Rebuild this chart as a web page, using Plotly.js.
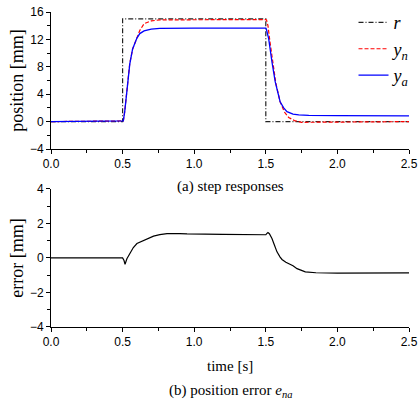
<!DOCTYPE html>
<html>
<head>
<meta charset="utf-8">
<script src="https://cdn.plot.ly/plotly-3.0.1.min.js"></script>
<style>html,body{margin:0;padding:0;background:#fff;}#chart{width:418px;height:407px;}</style>
</head>
<body>
<div id="chart"></div>
<script>
// reference r
const tR = [0, 0.5, 0.5, 1.5, 1.5, 2.5];
const rVals = [0, 0, 15, 15, 0, 0];
// nominal response y_n
const tYn = [0, 0.5, 0.505, 0.515, 0.53, 0.55, 0.57, 0.6, 0.62, 0.65, 0.7, 0.76, 1.0, 1.5, 1.505, 1.515, 1.53, 1.55, 1.57, 1.6, 1.63, 1.66, 1.7, 1.75, 1.8, 1.9, 2.0, 2.5];
const ynVals = [0, 0, 0.1, 1.5, 4.9, 8.5, 10.6, 12.4, 13.3, 14.3, 14.7, 14.85, 14.9, 14.9, 14.85, 14.0, 11.5, 8.3, 5.6, 2.9, 1.4, 0.6, 0.15, -0.1, -0.1, -0.05, 0, 0];
// actual response y_a
const tYa = [0, 0.5, 0.505, 0.515, 0.53, 0.55, 0.57, 0.6, 0.62, 0.65, 0.7, 0.76, 1.0, 1.5, 1.505, 1.52, 1.543, 1.566, 1.6, 1.625, 1.648, 1.69, 1.73, 1.8, 2.0, 2.5];
const yaVals = [0, 0, 0.1, 1.5, 4.9, 8.4, 10.6, 12.2, 12.85, 13.25, 13.5, 13.6, 13.65, 13.65, 13.4, 12.1, 8.7, 5.8, 2.9, 2.0, 1.45, 1.1, 0.97, 0.9, 0.87, 0.85];
// position error e_na
const tE = [0, 0.5, 0.51, 0.517, 0.53, 0.552, 0.575, 0.6, 0.646, 0.68, 0.716, 0.76, 0.81, 0.9, 0.95, 1.2, 1.5, 1.508, 1.515, 1.525, 1.543, 1.56, 1.578, 1.6, 1.613, 1.64, 1.66, 1.69, 1.718, 1.75, 1.776, 1.85, 2.0, 2.5];
const eVals = [0, 0, -0.15, -0.37, -0.05, 0.25, 0.6, 0.83, 0.99, 1.1, 1.26, 1.35, 1.41, 1.41, 1.39, 1.36, 1.34, 1.42, 1.47, 1.4, 1.12, 0.75, 0.35, 0.05, -0.09, -0.25, -0.33, -0.45, -0.62, -0.75, -0.81, -0.86, -0.88, -0.87];

const xTicks = [0, 0.5, 1.0, 1.5, 2.0, 2.5];
const y1Ticks = [-4, 0, 4, 8, 12, 16];
const y2Ticks = [-4, -2, 0, 2, 4];

const tickFont = {family: 'Liberation Sans, Arial, sans-serif', size: 12, color: '#000'};
const serif = 'Liberation Serif, Times New Roman, serif';

const traces = [
  {x: tR, y: rVals, xaxis: 'x', yaxis: 'y', mode: 'lines', name: 'r',
   line: {color: '#222', width: 1.2, dash: '5px,2px,1px,2px'}},
  {x: tYn, y: ynVals, xaxis: 'x', yaxis: 'y', mode: 'lines', name: 'y<sub>n</sub>',
   line: {color: '#ff0000', width: 1.2, dash: '4px,2px'}},
  {x: tYa, y: yaVals, xaxis: 'x', yaxis: 'y', mode: 'lines', name: 'y<sub>a</sub>',
   line: {color: '#0000ff', width: 1.3}},
  {x: tE, y: eVals, xaxis: 'x2', yaxis: 'y2', mode: 'lines', name: 'e', showlegend: false,
   line: {color: '#000', width: 1.2}}
];

function xAx(anchor) {
  return {anchor: anchor, range: [0, 2.5], tickvals: xTicks, tickformat: '.1f',
    showline: true, linecolor: '#000', linewidth: 1, ticks: 'outside', ticklen: 4, tickwidth: 1,
    tickcolor: '#000', showgrid: false, zeroline: false, mirror: false, tickfont: tickFont,
    minor: {dtick: 0.25, tick0: 0, ticks: 'outside', ticklen: 3, tickcolor: '#000', showgrid: false}};
}
function yAx(anchor, domain, range, tv, minorDt, title) {
  return {anchor: anchor, domain: domain, range: range, tickvals: tv,
    showline: true, linecolor: '#000', linewidth: 1, ticks: 'outside', ticklen: 4, tickwidth: 1,
    tickcolor: '#000', showgrid: false, zeroline: false, mirror: false, tickfont: tickFont,
    minor: {dtick: minorDt, tick0: 0, ticks: 'outside', ticklen: 3, tickcolor: '#000', showgrid: false},
    title: {text: title, font: {family: serif, size: 18, color: '#000'}, standoff: 1}};
}

const layout = {
  width: 418, height: 407,
  margin: {l: 51, r: 9, t: 12, b: 80, autoexpand: false},
  paper_bgcolor: '#fff', plot_bgcolor: '#fff',
  showlegend: true,
  legend: {x: 0.845, y: 1.025, xanchor: 'left', yanchor: 'top', bgcolor: 'rgba(0,0,0,0)',
    font: {family: serif, size: 18, color: '#000', style: 'italic'}, tracegroupgap: 0},
  xaxis: xAx('y'),
  yaxis: yAx('x', [0.565, 1], [-4, 16], y1Ticks, 2, 'position [mm]'),
  xaxis2: xAx('y2'),
  yaxis2: yAx('x2', [0, 0.4387], [-4, 4], y2Ticks, 1, 'error [mm]'),
  annotations: [
    {text: '(a) step responses', xref: 'paper', yref: 'paper', x: 0.5, y: 0.4476, xanchor: 'center', yanchor: 'middle',
     showarrow: false, font: {family: serif, size: 15, color: '#000'}},
    {text: 'time [s]', xref: 'paper', yref: 'paper', x: 0.5, y: -0.124, xanchor: 'center', yanchor: 'middle',
     showarrow: false, font: {family: serif, size: 15, color: '#000'}},
    {text: '(b) position error <i>e<sub>na</sub></i>', xref: 'paper', yref: 'paper', x: 0.5, y: -0.203, xanchor: 'center', yanchor: 'middle',
     showarrow: false, font: {family: serif, size: 15, color: '#000'}}
  ]
};

Plotly.newPlot('chart', traces, layout, {displayModeBar: false, staticPlot: true});
</script>
</body>
</html>
